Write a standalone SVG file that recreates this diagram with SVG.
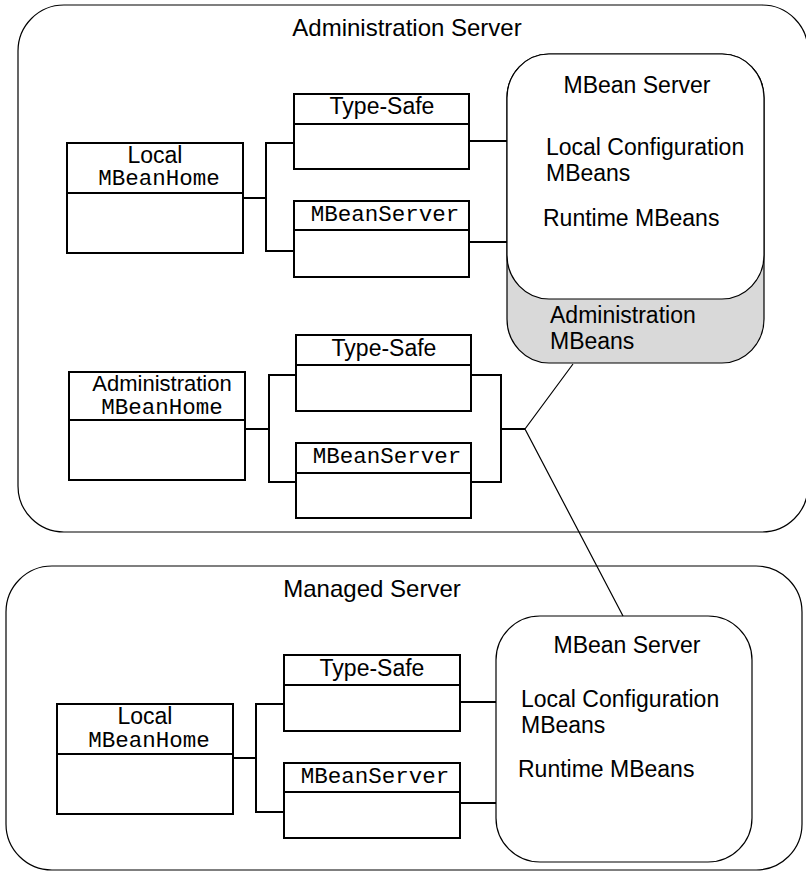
<svg xmlns="http://www.w3.org/2000/svg" width="806" height="872" viewBox="0 0 806 872">
<style>
.outer{fill:#fff;stroke:#000;stroke-width:1.2}
.box{fill:#fff;stroke:#000;stroke-width:2}
.div{stroke:#000;stroke-width:2}
.conn{fill:none;stroke:#000;stroke-width:2}
.thin{fill:none;stroke:#000;stroke-width:1.2}
.srv{fill:#fff;stroke:#000;stroke-width:1.2}
.gray{fill:#d9d9d9;stroke:#000;stroke-width:1.2}
.s{font-family:"Liberation Sans",Arial,sans-serif;font-size:23px;fill:#000}
.t{font-family:"Liberation Sans",Arial,sans-serif;font-size:24px;fill:#000}
.m{font-family:"Liberation Mono","Courier New",monospace;font-size:22.5px;fill:#000}
.c{text-anchor:middle}
</style>
<g id="admin-server">
<rect class="outer" x="18" y="5" width="790" height="527" rx="46" ry="46"/>
<text class="t c" x="407" y="36">Administration Server</text>
</g>
<g id="managed-server">
<rect class="outer" x="6" y="566" width="796" height="304" rx="46" ry="46"/>
<text class="t c" x="372" y="597">Managed Server</text>
</g>
<g id="admin-mbean-server">
<rect class="gray" x="507" y="54" width="257" height="309" rx="42" ry="44"/>
<rect class="srv" x="507" y="54" width="257" height="245" rx="42" ry="44"/>
<text class="s c" x="637" y="93">MBean Server</text>
<text class="s" x="546" y="155">Local Configuration</text>
<text class="s" x="546" y="181">MBeans</text>
<text class="s" x="543" y="226">Runtime MBeans</text>
<text class="s" x="550" y="323">Administration</text>
<text class="s" x="550" y="349">MBeans</text>
</g>
<g id="local-mbeanhome-admin">
<rect class="box" x="67" y="143" width="176" height="110"/>
<line class="div" x1="67" y1="193" x2="243" y2="193"/>
<text class="s c" x="155" y="163">Local</text>
<text class="m c" x="159" y="185">MBeanHome</text>
</g>
<g id="typesafe-admin-local">
<rect class="box" x="294" y="94" width="175" height="75"/>
<line class="div" x1="294" y1="124" x2="469" y2="124"/>
<text class="s c" x="382" y="114">Type-Safe</text>
</g>
<g id="mbeanserver-admin-local">
<rect class="box" x="294" y="201" width="175" height="76"/>
<line class="div" x1="294" y1="230" x2="469" y2="230"/>
<text class="m c" x="385" y="221">MBeanServer</text>
</g>
<g id="admin-mbeanhome">
<rect class="box" x="69" y="372" width="176" height="108"/>
<line class="div" x1="69" y1="420" x2="245" y2="420"/>
<text class="s c" x="162" y="391" style="font-size:22px">Administration</text>
<text class="m c" x="162" y="414">MBeanHome</text>
</g>
<g id="typesafe-admin">
<rect class="box" x="296" y="335" width="175" height="76"/>
<line class="div" x1="296" y1="365" x2="471" y2="365"/>
<text class="s c" x="384" y="356">Type-Safe</text>
</g>
<g id="mbeanserver-admin">
<rect class="box" x="296" y="443" width="175" height="75"/>
<line class="div" x1="296" y1="473" x2="471" y2="473"/>
<text class="m c" x="387" y="463">MBeanServer</text>
</g>
<g id="managed-mbean-server">
<rect class="srv" x="496" y="616" width="256" height="246" rx="44" ry="44"/>
<text class="s c" x="627" y="653">MBean Server</text>
<text class="s" x="521" y="707">Local Configuration</text>
<text class="s" x="521" y="733">MBeans</text>
<text class="s" x="518" y="777">Runtime MBeans</text>
</g>
<g id="local-mbeanhome-managed">
<rect class="box" x="57" y="704" width="176" height="110"/>
<line class="div" x1="57" y1="754" x2="233" y2="754"/>
<text class="s c" x="145" y="724">Local</text>
<text class="m c" x="149" y="747">MBeanHome</text>
</g>
<g id="typesafe-managed">
<rect class="box" x="284" y="655" width="176" height="76"/>
<line class="div" x1="284" y1="685" x2="460" y2="685"/>
<text class="s c" x="372" y="676">Type-Safe</text>
</g>
<g id="mbeanserver-managed">
<rect class="box" x="284" y="763" width="176" height="75"/>
<line class="div" x1="284" y1="792" x2="460" y2="792"/>
<text class="m c" x="375" y="783">MBeanServer</text>
</g>
<g id="connectors">
<path class="conn" d="M243 198H266M294 143H266V251H294"/>
<path class="conn" d="M469 141H507M469 242H507"/>
<path class="conn" d="M245 429H269M296 375H269V482H296"/>
<path class="conn" d="M471 375H501V482H471M501 429H525"/>
<path class="thin" d="M573 364L525 429L623 616"/>
<path class="conn" d="M233 758H256M284 704H256V812H284"/>
<path class="conn" d="M460 702H496M460 803H496"/>
</g>
</svg>
